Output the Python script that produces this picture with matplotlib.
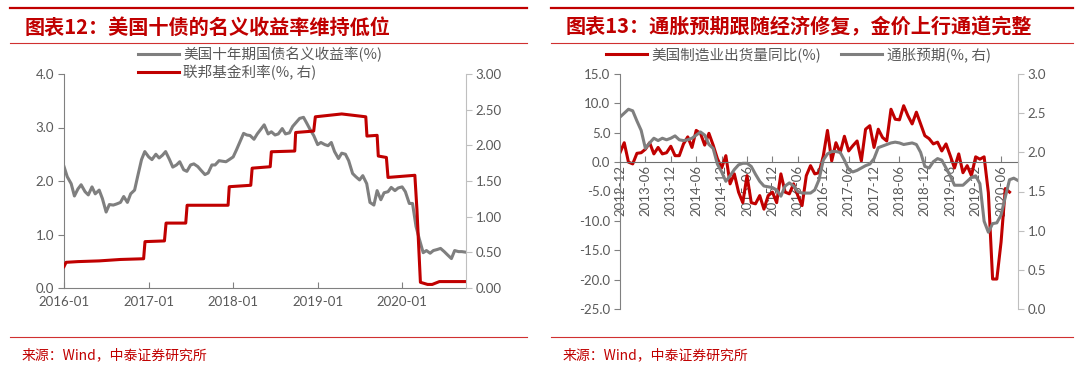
import numpy as np
import pandas as pd
import matplotlib
matplotlib.use('Agg')
import matplotlib.pyplot as plt
import matplotlib.ticker as mticker
from matplotlib.lines import Line2D
from matplotlib.font_manager import FontProperties

# ---- chart 12: US 10y yield (semi-monthly, from 2016-01-01) and fed funds rate
ust10y = [2.27, 2.08, 1.95, 1.72, 1.85, 1.93, 1.80, 1.74, 1.89, 1.76, 1.83, 1.67,
          1.42, 1.56, 1.55, 1.57, 1.60, 1.71, 1.60, 1.76, 1.83, 2.10, 2.40, 2.55,
          2.45, 2.40, 2.50, 2.43, 2.48, 2.55, 2.40, 2.26, 2.30, 2.36, 2.21, 2.18,
          2.30, 2.32, 2.27, 2.20, 2.12, 2.15, 2.30, 2.30, 2.38, 2.37, 2.36, 2.40,
          2.45, 2.58, 2.75, 2.89, 2.86, 2.85, 2.78, 2.88, 2.97, 3.05, 2.88, 2.92,
          2.86, 2.88, 2.98, 2.88, 2.90, 3.02, 3.10, 3.17, 3.19, 3.08, 2.95, 2.85,
          2.68, 2.72, 2.68, 2.66, 2.72, 2.55, 2.42, 2.52, 2.50, 2.38, 2.14, 2.08,
          2.02, 2.10, 1.95, 1.60, 1.55, 1.82, 1.65, 1.78, 1.80, 1.88, 1.82, 1.87,
          1.89, 1.80, 1.58, 1.58, 1.15, 0.92, 0.66, 0.70, 0.65, 0.70, 0.72, 0.74,
          0.68, 0.62, 0.55, 0.70, 0.68, 0.68, 0.67]
ust_dates = pd.date_range('2016-01-01', periods=len(ust10y), freq='SMS')

fed_dates = pd.to_datetime([
    '2016-01-01', '2016-01-10', '2016-03-01', '2016-06-01', '2016-09-01', '2016-12-10',
    '2016-12-16', '2017-03-10', '2017-03-17', '2017-06-10', '2017-06-16', '2017-12-10',
    '2017-12-15', '2018-03-18', '2018-03-24', '2018-06-10', '2018-06-15', '2018-09-24',
    '2018-09-28', '2018-12-15', '2018-12-22', '2019-04-15', '2019-07-28', '2019-08-02',
    '2019-09-15', '2019-09-20', '2019-10-25', '2019-11-01', '2020-02-25', '2020-03-05',
    '2020-03-20', '2020-04-20', '2020-05-10', '2020-06-10', '2020-10-03'])
fed_funds = [0.30, 0.36, 0.37, 0.38, 0.40, 0.41,
             0.65, 0.66, 0.91, 0.91, 1.16, 1.16,
             1.42, 1.44, 1.68, 1.70, 1.91, 1.92,
             2.18, 2.20, 2.40, 2.44, 2.40, 2.13,
             2.14, 1.85, 1.83, 1.55, 1.58, 1.10,
             0.08, 0.05, 0.05, 0.09, 0.09]

year_ticks = ['2016-01', '2017-01', '2018-01', '2019-01', '2020-01']

# ---- chart 13: monthly from 2012-12
mfg_ship = [1.6, 3.3, 0.0, -0.3, 1.5, 1.6, 2.2, 3.3, 1.4, 2.5,
            1.4, 1.6, 2.7, 1.1, 1.1, 3.1, 4.3, 2.5, 5.4, 4.9,
            2.9, 4.9, 2.9, 0.6, -1.0, 1.1, -3.7, -2.0, -5.1, -6.9,
            -2.3, -6.9, -7.1, -5.7, -8.0, -5.7, -5.1, -6.9, -2.0, -5.1,
            -5.4, -3.7, -5.7, -7.4, -2.3, -0.6, -2.0, -1.8, 1.0, 5.4,
            0.2, 3.3, 1.6, 4.4, 1.9, 2.8, 3.6, 0.2, 5.6, 6.2,
            2.5, 5.6, 4.2, 3.6, 9.0, 7.3, 7.2, 9.6, 7.9, 6.5,
            8.5, 6.5, 4.5, 4.0, 3.1, 3.4, 1.9, 3.1, 1.1, -1.0,
            1.4, -1.8, -0.6, -2.3, 0.9, 0.5, 0.9, -5.2, -19.9, -19.9,
            -13.6, -4.5, -5.1]
infl_exp = [2.45, 2.50, 2.55, 2.53, 2.40, 2.28, 2.05, 2.12, 2.18, 2.15,
            2.18, 2.16, 2.18, 2.21, 2.16, 2.15, 2.16, 2.18, 2.22, 2.26,
            2.22, 2.10, 2.05, 1.85, 1.75, 1.63, 1.70, 1.78, 1.84, 1.86,
            1.86, 1.82, 1.72, 1.63, 1.57, 1.56, 1.55, 1.52, 1.44, 1.57,
            1.61, 1.57, 1.50, 1.48, 1.48, 1.48, 1.52, 1.65, 1.90, 1.98,
            2.01, 2.01, 2.00, 1.90, 1.78, 1.75, 1.77, 1.80, 1.83, 1.85,
            1.92, 2.06, 2.08, 2.10, 2.12, 2.13, 2.12, 2.10, 2.11, 2.12,
            2.10, 2.00, 1.82, 1.80, 1.88, 1.92, 1.90, 1.80, 1.70, 1.58,
            1.58, 1.58, 1.63, 1.68, 1.70, 1.60, 1.12, 0.98, 1.09, 1.10,
            1.20, 1.43, 1.65, 1.67, 1.64]
month_ticks = ['2012-12', '2013-06', '2013-12', '2014-06', '2014-12', '2015-06',
               '2015-12', '2016-06', '2016-12', '2017-06', '2017-12', '2018-06',
               '2018-12', '2019-06', '2019-12', '2020-06']

RED = '#C00000'
GRAY = '#7F7F7F'
TXT = '#595959'
CJK = ['Noto Sans CJK SC', 'DejaVu Sans']

plt.rcParams['font.family'] = ['Lato', 'DejaVu Sans']
plt.rcParams['font.size'] = 9.5

W, H = 1080, 373
fig = plt.figure(figsize=(10.8, 3.73), dpi=100)


def fx(px):
    return px / W


def fy(py):
    return 1 - py / H


def frame(x0, x1, title):
    fig.add_artist(Line2D([fx(x0), fx(x1)], [fy(8.3)] * 2, color=RED, lw=1.6))
    fig.add_artist(Line2D([fx(x0), fx(x1)], [fy(42.5)] * 2, color='#D03030', lw=0.8))
    fig.add_artist(Line2D([fx(x0), fx(x1)], [fy(337)] * 2, color='#D03030', lw=0.8))
    fig.text(fx(x0 + 15), fy(27), title, color=RED, fontsize=14.5, weight='bold',
             family=CJK, ha='left', va='center')
    fig.text(fx(x0 + 12), fy(355), '来源：Wind，中泰证券研究所', color=RED,
             fontsize=10, family=CJK, ha='left', va='center')


def style(ax, axb):
    ax.spines['top'].set_visible(False)
    ax.spines['right'].set_visible(False)
    axb.spines['top'].set_visible(False)
    axb.spines['left'].set_visible(False)
    axb.spines['bottom'].set_visible(False)
    ax.spines['left'].set_color('#808080')
    ax.spines['bottom'].set_color('#808080')
    axb.spines['right'].set_color('#BFBFBF')
    ax.tick_params(axis='y', direction='out', length=4, color='#808080', labelcolor=TXT, pad=3)
    axb.tick_params(axis='y', direction='out', length=4, color='#BFBFBF', labelcolor=TXT, pad=3)
    ax.tick_params(axis='x', direction='in', length=4, color='#808080', labelcolor=TXT)
    ax.set_facecolor('none')
    axb.set_facecolor('none')


frame(10, 527, '图表12：美国十债的名义收益率维持低位')
frame(551, 1073, '图表13：通胀预期跟随经济修复，金价上行通道完整')

# ---------- left chart
ax1 = fig.add_axes([fx(64), fy(288), fx(466) - fx(64), fy(74) - fy(288)])
ax1b = ax1.twinx()
style(ax1, ax1b)
l1, = ax1.plot(ust_dates, ust10y, color=GRAY, lw=2.2)
l2, = ax1b.plot(fed_dates, fed_funds, color=RED, lw=2.2)
ax1.set_xlim(pd.Timestamp('2016-01-01'), pd.Timestamp('2020-10-03'))
ax1.set_ylim(0, 4)
ax1.set_yticks(np.arange(0, 4.01, 1))
ax1.yaxis.set_major_formatter(mticker.FormatStrFormatter('%.1f'))
ax1b.set_ylim(0, 3)
ax1b.set_yticks(np.arange(0, 3.01, 0.5))
ax1b.yaxis.set_major_formatter(mticker.FormatStrFormatter('%.2f'))
ax1.set_xticks(pd.to_datetime(year_ticks))
ax1.set_xticklabels(year_ticks)
ax1.tick_params(axis='x', pad=6)

fig.legend([l1, l2], ['美国十年期国债名义收益率(%)', '联邦基金利率(%, 右)'],
           loc='upper left', bbox_to_anchor=(fx(138), fy(47)), frameon=False,
           prop=FontProperties(family=CJK, size=10.5), labelcolor=TXT,
           handlelength=2.8, handletextpad=0.3, labelspacing=0.15,
           borderpad=0, borderaxespad=0)

# ---------- right chart
ax2 = fig.add_axes([fx(620), fy(309), fx(1018) - fx(620), fy(74) - fy(309)])
ax2b = ax2.twinx()
style(ax2, ax2b)
ax2.spines['bottom'].set_position(('data', 0))
ax2.spines['bottom'].set_color('#6F6F6F')
r1, = ax2.plot(np.arange(len(mfg_ship)), mfg_ship, color=RED, lw=2.2)
r2, = ax2b.plot(np.arange(len(infl_exp)), infl_exp, color=GRAY, lw=2.2)
ax2.set_xlim(0, 94)
ax2.set_ylim(-25, 15)
ax2.set_yticks(np.arange(-25, 15.1, 5))
ax2.yaxis.set_major_formatter(mticker.FormatStrFormatter('%.1f'))
ax2b.set_ylim(0, 3)
ax2b.set_yticks(np.arange(0, 3.01, 0.5))
ax2b.yaxis.set_major_formatter(mticker.FormatStrFormatter('%.1f'))
ax2.set_xticks(np.arange(0, 6 * len(month_ticks), 6))
ax2.set_xticklabels(month_ticks)
ax2.tick_params(axis='x', pad=2, labelrotation=90)
for lab in ax2.get_xticklabels():
    lab.set_verticalalignment('top')
    lab.set_horizontalalignment('center')

fig.legend([r1, r2], ['美国制造业出货量同比(%)', '通胀预期(%, 右)'],
           loc='upper left', bbox_to_anchor=(fx(606), fy(47)), frameon=False, ncol=2,
           prop=FontProperties(family=CJK, size=10.5), labelcolor=TXT,
           handlelength=2.8, handletextpad=0.3, columnspacing=1.4,
           borderpad=0, borderaxespad=0)

fig.savefig('out.png', dpi=100)
